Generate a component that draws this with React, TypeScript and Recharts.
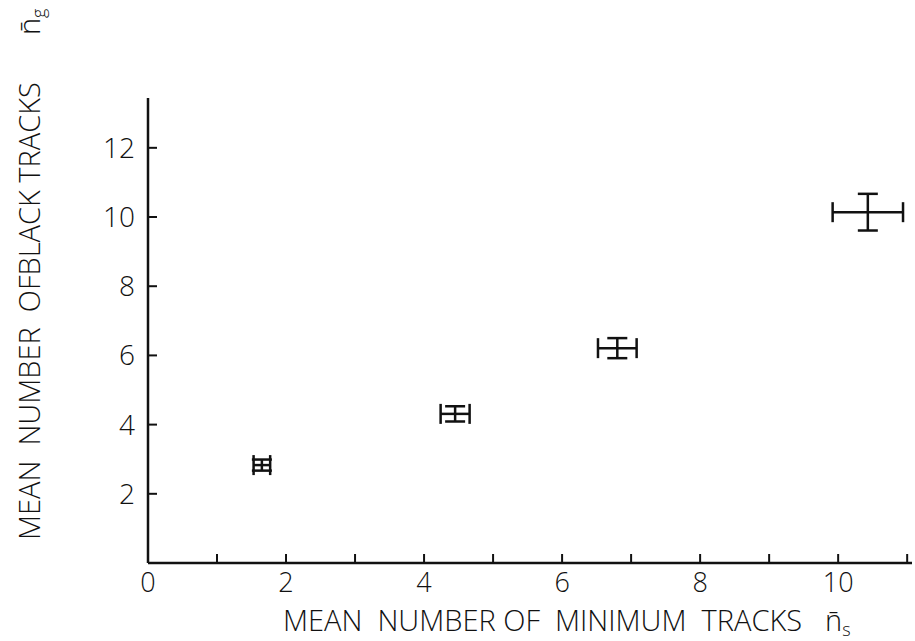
import { ScatterChart, Scatter, XAxis, YAxis, ErrorBar } from 'recharts'

// mean number of minimum tracks (x) and of black tracks (y), with errors
const nsMean = [1.65, 4.45, 6.8, 10.43]
const ngMean = [2.83, 4.31, 6.21, 10.14]
const nsErr = [0.12, 0.21, 0.28, 0.51]
const ngErr = [0.16, 0.22, 0.29, 0.53]

const xTicks = [0, 1, 2, 3, 4, 5, 6, 7, 8, 9, 10, 11]
const xLabelled = [0, 2, 4, 6, 8, 10]
const yTicks = [2, 4, 6, 8, 10, 12]

const xTitle = 'MEAN  NUMBER OF  MINIMUM  TRACKS'
const yTitle = 'MEAN  NUMBER  OFBLACK TRACKS'

const INK = '#111'
const FONT = '"Open Sans", "DejaVu Sans", sans-serif'

const data = nsMean.map((x, i) => ({
  ns: x,
  ng: ngMean[i],
  nsErr: nsErr[i],
  ngErr: ngErr[i],
}))

function XTick(props: any) {
  const { x, y, payload } = props
  const v = payload.value
  return (
    <g>
      <line x1={x} x2={x} y1={y} y2={y - 9} stroke={INK} strokeWidth={2} />
      {xLabelled.includes(v) && (
        <text
          x={x}
          y={y + 29}
          textAnchor="middle"
          fontSize={27}
          fontFamily={FONT}
          fontWeight={300}
          fill={INK}
        >
          {v}
        </text>
      )}
    </g>
  )
}

function YTick(props: any) {
  const { x, y, payload } = props
  return (
    <g>
      <line x1={x} x2={x + 9} y1={y} y2={y} stroke={INK} strokeWidth={2} />
      <text
        x={x - 13}
        y={y + 10}
        textAnchor="end"
        fontSize={28}
        fontFamily={FONT}
        fontWeight={300}
        fill={INK}
      >
        {payload.value}
      </text>
    </g>
  )
}

function XTitle() {
  return (
    <g fontSize={29} fontFamily={FONT} fontWeight={300} fill={INK}>
      <text x={283} y={631} style={{ whiteSpace: 'pre' }}>
        {xTitle}
      </text>
      <text x={825} y={631}>
        {'n\u0304'}
        <tspan fontSize={18} dy={5}>s</tspan>
      </text>
    </g>
  )
}

function YTitle() {
  return (
    <g
      transform="translate(40, 540) rotate(-90)"
      fontSize={29}
      fontFamily={FONT}
      fontWeight={300}
      fill={INK}
    >
      <text x={0} y={0} style={{ whiteSpace: 'pre' }}>
        {yTitle}
      </text>
      <text x={505} y={0}>
        {'n\u0304'}
        <tspan fontSize={18} dy={5}>g</tspan>
      </text>
    </g>
  )
}

export default function App() {
  return (
    <div style={{ position: 'absolute', left: 0, top: 0, width: 915, height: 641, background: '#fff' }}>
      <ScatterChart width={915} height={641} margin={{ top: 98, right: 3, bottom: 0, left: 0 }}>
        <XAxis
          type="number"
          dataKey="ns"
          domain={[0, 11.07]}
          ticks={xTicks}
          interval={0}
          tick={<XTick />}
          tickLine={false}
          tickSize={0}
          tickMargin={0}
          axisLine={{ stroke: INK, strokeWidth: 2.5 }}
          height={78}
          allowDataOverflow
        />
        <YAxis
          type="number"
          dataKey="ng"
          domain={[0, 13.44]}
          ticks={yTicks}
          interval={0}
          tick={<YTick />}
          tickLine={false}
          tickSize={0}
          tickMargin={0}
          axisLine={{ stroke: INK, strokeWidth: 2.5 }}
          width={148}
          allowDataOverflow
        />
        <Scatter data={data} isAnimationActive={false} shape={() => <g />}>
          <ErrorBar dataKey="nsErr" direction="x" width={10} stroke={INK} strokeWidth={2.5} />
          <ErrorBar dataKey="ngErr" direction="y" width={10} stroke={INK} strokeWidth={2.5} />
        </Scatter>
        <XTitle />
        <YTitle />
      </ScatterChart>
    </div>
  )
}
